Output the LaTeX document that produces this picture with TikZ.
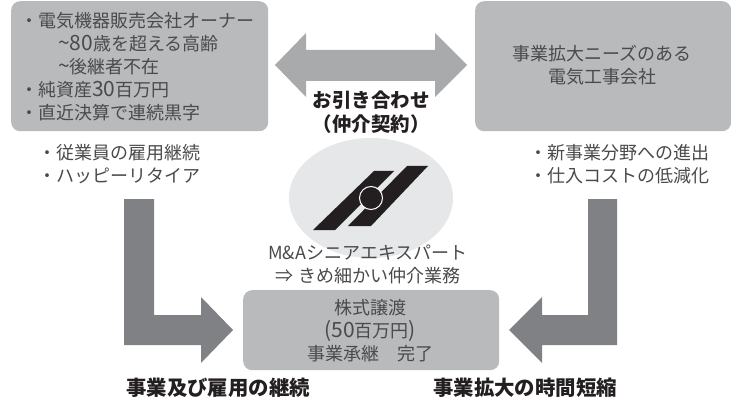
\documentclass[tikz,border=0pt]{standalone}
\usepackage{fontspec}
\usetikzlibrary{shapes.geometric}
\setmainfont{Noto Sans CJK JP}
\definecolor{boxgray}{HTML}{B9BABC}
\definecolor{arrowlight}{HTML}{A9AAAC}
\definecolor{arrowdark}{HTML}{808184}
\definecolor{ovalgray}{HTML}{E6E7E8}
\definecolor{logoblack}{HTML}{231F20}
\definecolor{textgray}{HTML}{4A4A4C}
\newcommand{\numtext}[1]{{\fontsize{21pt}{23pt}\selectfont #1}}
\tikzset{
  font={\fontsize{18pt}{23pt}\selectfont},
  every node/.style={text=textgray, inner sep=0pt},
  partybox/.style={draw=none, fill=boxgray, rounded corners=9pt, align=center, anchor=north west},
  plaintext/.style={align=left, anchor=west},
  boldtext/.style={align=center, text=logoblack, font={\fontsize{19.5pt}{24pt}\selectfont\bfseries}},
  resulttext/.style={boldtext, font={\fontsize{20.4pt}{24pt}\selectfont\bfseries}},
  blockarrow/.style={fill=#1, draw=none}
}
\begin{document}
\begin{tikzpicture}[x=1pt, y=-1pt]
  \useasboundingbox (0,0) rectangle (731,401);
  % boxes
  \node (seller) [partybox, minimum width=257pt, minimum height=130pt] at (11,1) {};
  \node (buyer) [partybox, minimum width=256pt, minimum height=130pt] at (475,1) {};
  \node (deal) [partybox, minimum width=256pt, minimum height=80pt] at (243,290) {};
  \node (oval) [ellipse, fill=ovalgray, minimum width=164pt, minimum height=120pt] at (371,198) {};
  % arrows
  \fill[blockarrow=arrowlight] (275,65) -- (306,33) -- (306,50) -- (435,50) -- (435,33) -- (467,65)
    -- (435,97) -- (435,81) -- (306,81) -- (306,97) -- cycle;
  \fill[blockarrow=arrowdark] (124,199) -- (154,199) -- (154,315) -- (201,315) -- (201,297) -- (233,330)
    -- (201,363) -- (201,345) -- (124,345) -- cycle;
  \fill[blockarrow=arrowdark] (617,199) -- (588,199) -- (588,315) -- (542,315) -- (542,297) -- (509,330)
    -- (542,363) -- (542,345) -- (617,345) -- cycle;
  % logo
  \fill[logoblack] (313,230) -- (335,230) -- (394,171) -- (374,171) -- cycle;
  \fill[logoblack] (348,226) -- (371,226) -- (428,166) -- (407,166) -- cycle;
  \node (mark) [circle, fill=logoblack, draw=white, line width=1pt, minimum size=23pt] at (371,198) {};
  % texts
  \node (sellertext) [plaintext] at (20,67) {・電気機器販売会社オーナー\\
    \hspace*{38pt}\numtext{\textasciitilde{}80}歳を超える高齢\\
    \hspace*{38pt}\numtext{\textasciitilde{}}後継者不在\\
    ・純資産\numtext{30}百万円\\
    ・直近決算で連続黒字};
  \node (buyertext) [align=center] at (602,65) {事業拡大ニーズのある\\電気工事会社};
  \node (sellerneeds) [plaintext] at (38,164.5) {・従業員の雇用継続\\・ハッピーリタイア};
  \node (buyerneeds) [plaintext] at (529,164.5) {・新事業分野への進出\\・仕入コストの低減化};
  \node (intro) [boldtext] at (371,112) {お引き合わせ\\（仲介契約）};
  \node (expert) [align=center] at (368,264) {M\&Aシニアエキスパート\\⇒ きめ細かい仲介業務};
  \node (dealtext) [align=center] at (370,330.5) {株式譲渡\\\numtext{(50}百万円\numtext{)}\\事業承継　完了};
  \node (resultleft) [resulttext] at (218,388) {事業及び雇用の継続};
  \node (resultright) [resulttext] at (525,388) {事業拡大の時間短縮};
\end{tikzpicture}
\end{document}
